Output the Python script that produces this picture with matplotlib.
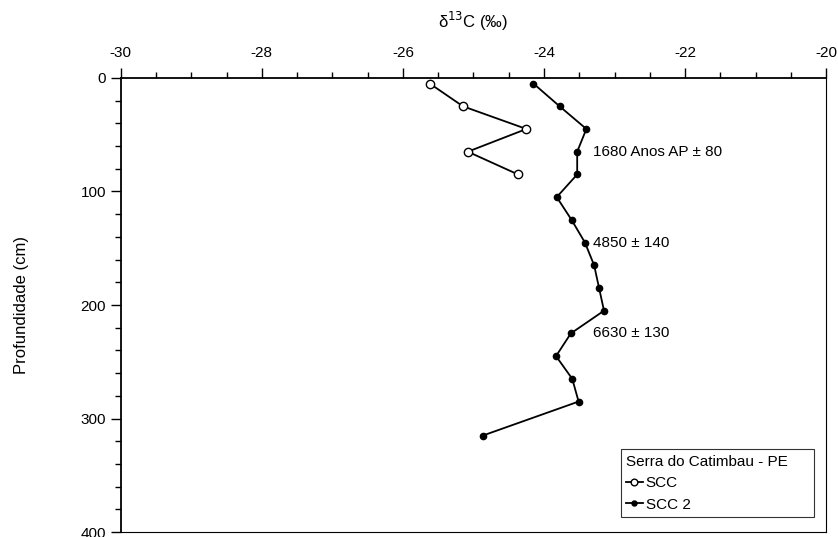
import numpy as np
import matplotlib
matplotlib.use('Agg')
from matplotlib import pyplot as plt
from matplotlib.ticker import MultipleLocator

plt.rcParams['font.family'] = ['Liberation Sans', 'DejaVu Sans']
plt.rcParams['axes.unicode_minus'] = False

# SCC profile (open circles)
scc_depth = [5, 25, 45, 65, 85]
scc_d13c = [-25.62, -25.15, -24.25, -25.08, -24.37]

# SCC 2 profile (filled circles)
scc2_depth = [5, 25, 45, 65, 85, 105, 125, 145, 165, 185, 205, 225, 245, 265, 285, 315]
scc2_d13c = [-24.15, -23.78, -23.40, -23.53, -23.53, -23.82, -23.61, -23.42,
             -23.29, -23.22, -23.15, -23.62, -23.83, -23.60, -23.51, -24.87]

# radiocarbon ages written beside the profile
age_labels = ['1680 Anos AP \u00b1 80', '4850 \u00b1 140', '6630 \u00b1 130']
age_depth = [65, 145, 225]
age_x = -23.3

x_ticks = [-30, -28, -26, -24, -22, -20]
y_ticks = [0, 100, 200, 300, 400]

fig = plt.figure(figsize=(8.38, 5.37), dpi=100)
ax = fig.add_axes([0.144, 0.009, 0.842, 0.846])

ax.plot(scc_d13c, scc_depth, '-o', color='black', lw=1.3, ms=6,
        mfc='white', mec='black', mew=1.0, label='SCC')
ax.plot(scc2_d13c, scc2_depth, '-o', color='black', lw=1.3, ms=4.5,
        mfc='black', mec='black', label='SCC 2')

for txt, d in zip(age_labels, age_depth):
    ax.text(age_x, d, txt, fontsize=11, va='center', ha='left')

ax.set_xlim(-30, -20)
ax.set_ylim(400, 0)
ax.xaxis.tick_top()
ax.xaxis.set_label_position('top')
ax.set_xticks(x_ticks)
ax.set_yticks(y_ticks)
ax.xaxis.set_minor_locator(MultipleLocator(0.5))
ax.yaxis.set_minor_locator(MultipleLocator(20))
ax.tick_params(which='major', length=7, width=1, labelsize=11, direction='out')
ax.tick_params(which='minor', length=4, width=1, direction='out')
ax.tick_params(axis='x', pad=6)

for side in ['top', 'left']:
    ax.spines[side].set_linewidth(1.3)
for side in ['right', 'bottom']:
    ax.spines[side].set_linewidth(0.8)

ax.set_xlabel('\u03b4$^{13}$C (\u2030)', fontsize=12, labelpad=13)
ax.set_ylabel('Profundidade (cm)', fontsize=12, labelpad=37)

leg = ax.legend(title='Serra do Catimbau - PE     ', loc='lower right',
                bbox_to_anchor=(0.983, 0.033), fontsize=11, title_fontsize=11,
                frameon=True, fancybox=False, edgecolor='black',
                handlelength=1.1, handletextpad=0.2, borderpad=0.35,
                labelspacing=0.5, markerscale=0.8, borderaxespad=0)
leg._legend_box.align = 'left'
leg.get_frame().set_linewidth(0.8)

plt.savefig('out.png', dpi=100)
